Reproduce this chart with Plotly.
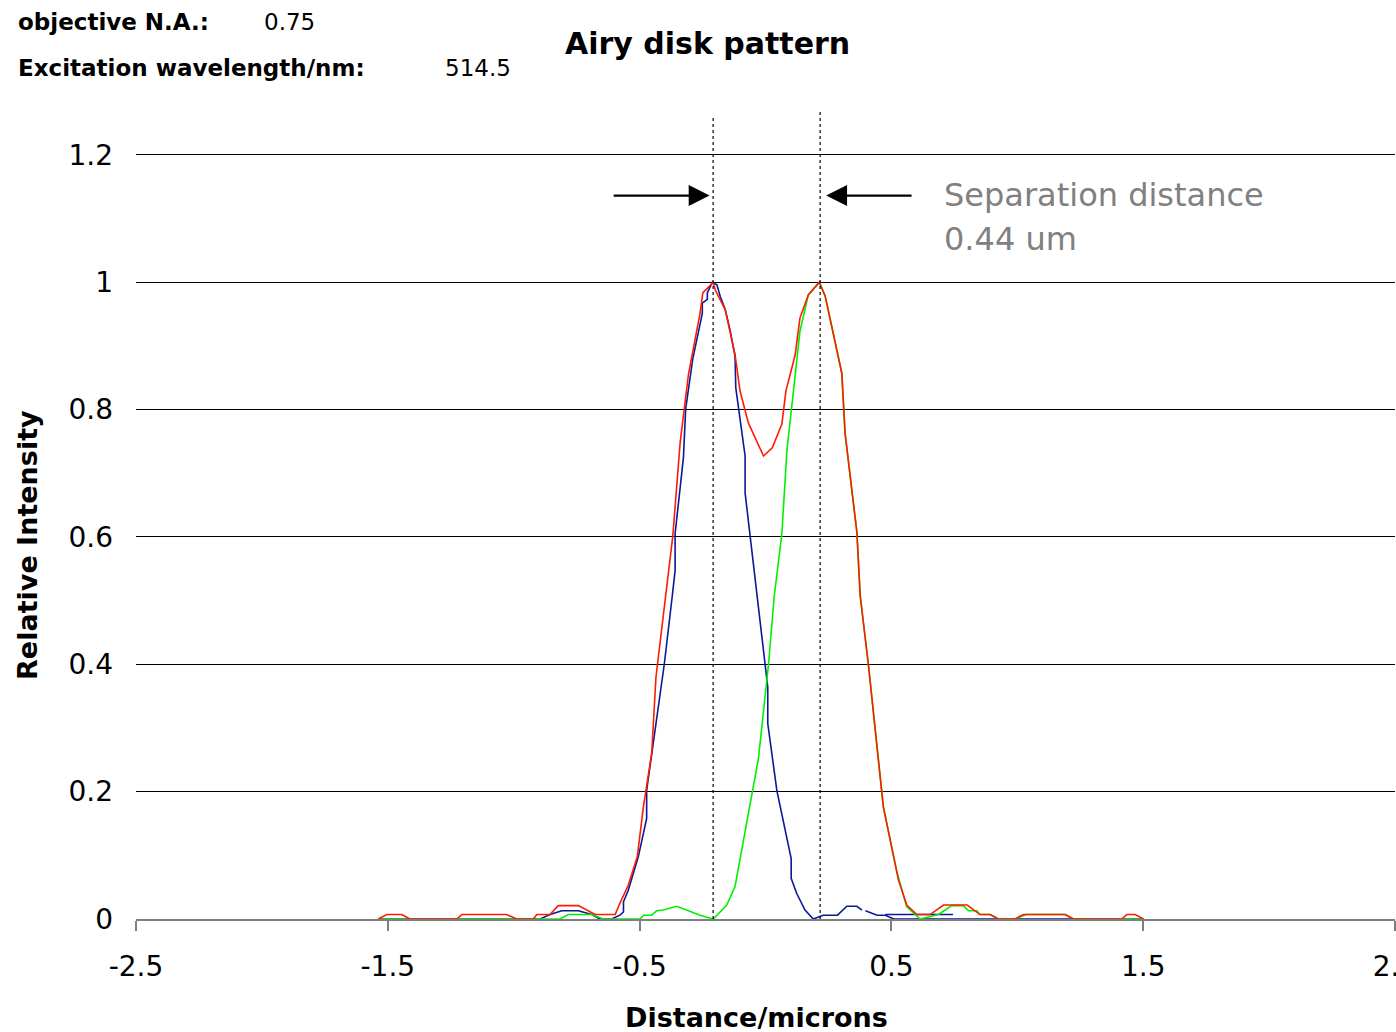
import plotly.graph_objects as go

# ---------------- data ----------------
x_blue = [-1.538, -0.895, -0.856, -0.809, -0.743, -0.690, -0.657, -0.611, -0.578, -0.564,
          -0.564, -0.545, -0.505, -0.472, -0.472, -0.402, -0.370, -0.359, -0.359, -0.326,
          -0.317, -0.289, -0.251, -0.251, -0.231, -0.231, -0.211, -0.193, -0.180, -0.160,
          -0.141, -0.121, -0.118, -0.081, -0.081, -0.035, -0.002, 0.009, 0.009, 0.045,
          0.102, 0.102, 0.124, 0.157, 0.190, 0.229, 0.286, 0.323, 0.363, 0.383,
          None, 0.397, 0.443, 0.476, 0.509, 1.501, None, 0.476, 0.745]
y_blue = [0, 0, 0.007, 0.013, 0.013, 0.007, 0, 0, 0.006, 0.011,
          0.027, 0.045, 0.098, 0.158, 0.202, 0.400, 0.508, 0.547, 0.605, 0.724,
          0.801, 0.879, 0.951, 0.967, 0.973, 0.983, 1.0, 0.996, 0.978, 0.957,
          0.925, 0.884, 0.834, 0.727, 0.669, 0.508, 0.400, 0.364, 0.307, 0.202,
          0.095, 0.064, 0.040, 0.014, 0, 0.006, 0.006, 0.020, 0.020, 0.014,
          None, 0.013, 0.006, 0.006, 0, 0, None, 0.007, 0.007]

x_green = [-1.538, -0.816, -0.783, -0.690, -0.644, -0.498, -0.485, -0.452, -0.432, -0.406,
           -0.352, -0.260, -0.207, -0.154, -0.121, -0.028, 0.012, 0.035, 0.065, 0.085,
           0.137, 0.170, 0.215, 0.237, 0.263, 0.303, 0.316, 0.340, 0.363, 0.376,
           0.409, 0.468, 0.522, 0.561, 0.614, 0.687, 0.740, 0.786, 0.806, 0.839,
           0.852, 0.892, 0.925, 0.991, 1.036, 1.190, 1.223, 1.501]
y_green = [0, 0, 0.007, 0.007, 0, 0, 0.006, 0.006, 0.013, 0.014,
           0.020, 0.006, 0, 0.022, 0.051, 0.252, 0.400, 0.508, 0.605, 0.735,
           0.923, 0.980, 1.0, 0.978, 0.931, 0.857, 0.763, 0.685, 0.607, 0.508,
           0.398, 0.176, 0.074, 0.019, 0, 0.007, 0.021, 0.021, 0.013, 0.013,
           0.007, 0.007, 0, 0, 0.007, 0.007, 0, 0]

x_red = [-1.538, -1.504, -1.445, -1.412, -1.226, -1.206, -1.028, -0.988, -0.922, -0.908,
         -0.856, -0.823, -0.743, -0.677, -0.597, -0.578, -0.545, -0.509, -0.485, -0.452,
         -0.435, -0.395, -0.368, -0.339, -0.306, -0.260, -0.249, -0.207, -0.200, -0.160,
         -0.121, -0.101, -0.068, -0.008, 0.027, 0.065, 0.081, 0.118, 0.137, 0.170,
         0.213, 0.237, 0.263, 0.303, 0.316, 0.340, 0.363, 0.376, 0.409, 0.468,
         0.528, 0.561, 0.601, 0.654, 0.707, 0.801, 0.852, 0.892, 0.925, 0.991,
         1.024, 1.190, 1.223, 1.415, 1.435, 1.468, 1.501]
y_red = [0, 0.007, 0.007, 0, 0, 0.007, 0.007, 0, 0, 0.007,
         0.007, 0.021, 0.021, 0.007, 0.007, 0.025, 0.053, 0.098, 0.176, 0.260,
         0.380, 0.515, 0.602, 0.748, 0.855, 0.951, 0.983, 1.0, 0.988, 0.957,
         0.886, 0.829, 0.779, 0.727, 0.740, 0.777, 0.829, 0.886, 0.944, 0.980,
         1.0, 0.978, 0.931, 0.857, 0.763, 0.685, 0.607, 0.508, 0.398, 0.176,
         0.061, 0.022, 0.007, 0.007, 0.022, 0.022, 0.007, 0.007, 0, 0,
         0.007, 0.007, 0, 0, 0.007, 0.007, 0]

peak_x = [-0.208, 0.217]          # dotted marker lines at the two peaks
peak_line_top = [1.046, 1.054]    # paper fraction where each dotted line ends
arrow_tail_x = [-0.609, 0.586]
arrow_head_x = [-0.222, 0.241]
arrow_y = 1.136
sep_label_x = 0.701
sep_label_lines = ["Separation distance", "0.44 um"]
sep_label_y = [1.137, 1.067]

x_ticks = [-2.5, -1.5, -0.5, 0.5, 1.5, 2.5]
x_ticktext = ["-2.5", "-1.5", "-0.5", "0.5", "1.5", "2.5"]
y_ticks = [0, 0.2, 0.4, 0.6, 0.8, 1.0, 1.2]
y_ticktext = ["0", "0.2", "0.4", "0.6", "0.8", "1", "1.2"]

FONT = "DejaVu Sans"

fig = go.Figure()
fig.add_trace(go.Scatter(x=x_blue, y=y_blue, mode="lines", connectgaps=False,
                         line=dict(color="#0A1A96", width=1.6), showlegend=False))
fig.add_trace(go.Scatter(x=x_green, y=y_green, mode="lines",
                         line=dict(color="#00F000", width=1.6), showlegend=False))
fig.add_trace(go.Scatter(x=x_red, y=y_red, mode="lines",
                         line=dict(color="#FF1A00", width=1.6), showlegend=False))

shapes = []
for px, top in zip(peak_x, peak_line_top):
    shapes.append(dict(type="line", xref="x", yref="paper", x0=px, x1=px, y0=0, y1=top,
                       line=dict(color="black", width=1.2, dash="dot"), layer="above"))

annotations = []
for hx, tx in zip(arrow_head_x, arrow_tail_x):
    annotations.append(dict(x=hx, y=arrow_y, ax=tx, ay=arrow_y, xref="x", yref="y",
                            axref="x", ayref="y", text="", showarrow=True,
                            arrowhead=2, arrowsize=1.9, arrowwidth=2.2, arrowcolor="black"))
for txt, ty in zip(sep_label_lines, sep_label_y):
    annotations.append(dict(x=sep_label_x, y=ty, xref="x", yref="y", text=txt,
                            showarrow=False, xanchor="left", yanchor="middle",
                            font=dict(family=FONT, size=32, color="#808080")))

# title & header texts
annotations += [
    dict(x=0.4543, y=1.1436, xref="paper", yref="paper", text="<b>Airy disk pattern</b>",
         showarrow=False, xanchor="center", yanchor="middle",
         font=dict(family=FONT, size=30, color="black")),
    dict(x=-0.0953, y=1.171, xref="paper", yref="paper", text="<b>objective N.A.:</b>",
         showarrow=False, xanchor="left", yanchor="middle",
         font=dict(family=FONT, size=23, color="black")),
    dict(x=0.1001, y=1.171, xref="paper", yref="paper", text="0.75",
         showarrow=False, xanchor="left", yanchor="middle",
         font=dict(family=FONT, size=23, color="black")),
    dict(x=-0.0953, y=1.111, xref="paper", yref="paper", text="<b>Excitation wavelength/nm:</b>",
         showarrow=False, xanchor="left", yanchor="middle",
         font=dict(family=FONT, size=23, color="black")),
    dict(x=0.2438, y=1.111, xref="paper", yref="paper", text="514.5",
         showarrow=False, xanchor="left", yanchor="middle",
         font=dict(family=FONT, size=23, color="black")),
    dict(x=-0.0858, y=0.4883, xref="paper", yref="paper", text="<b>Relative Intensity</b>",
         showarrow=False, xanchor="center", yanchor="middle", textangle=-90,
         font=dict(family=FONT, size=27, color="black")),
    dict(x=0.4932, y=-0.1292, xref="paper", yref="paper", text="<b>Distance/microns</b>",
         showarrow=False, xanchor="center", yanchor="middle",
         font=dict(family=FONT, size=27, color="black")),
]

fig.update_layout(
    width=1396, height=1032,
    margin=dict(l=136, r=1, t=153, b=113, autoexpand=False),
    paper_bgcolor="white", plot_bgcolor="white",
    shapes=shapes, annotations=annotations,
    xaxis=dict(range=[-2.5, 2.5], tickmode="array", tickvals=x_ticks, ticktext=x_ticktext,
               showgrid=False, zeroline=False, showline=True, linecolor="#7f7f7f",
               linewidth=1.5, ticks="outside", ticklen=10, tickcolor="#7f7f7f", tickwidth=1.5,
               ticklabelstandoff=12, ticklabeloverflow="allow",
               tickfont=dict(family=FONT, size=28, color="black"), automargin=False),
    yaxis=dict(range=[0, 1.2028], tickmode="array", tickvals=y_ticks, ticktext=y_ticktext,
               showgrid=True, gridcolor="black", gridwidth=1, zeroline=False,
               showline=False, ticks="", ticklabelstandoff=22,
               tickfont=dict(family=FONT, size=28, color="black"), automargin=False),
)

fig.write_html("out.html")
